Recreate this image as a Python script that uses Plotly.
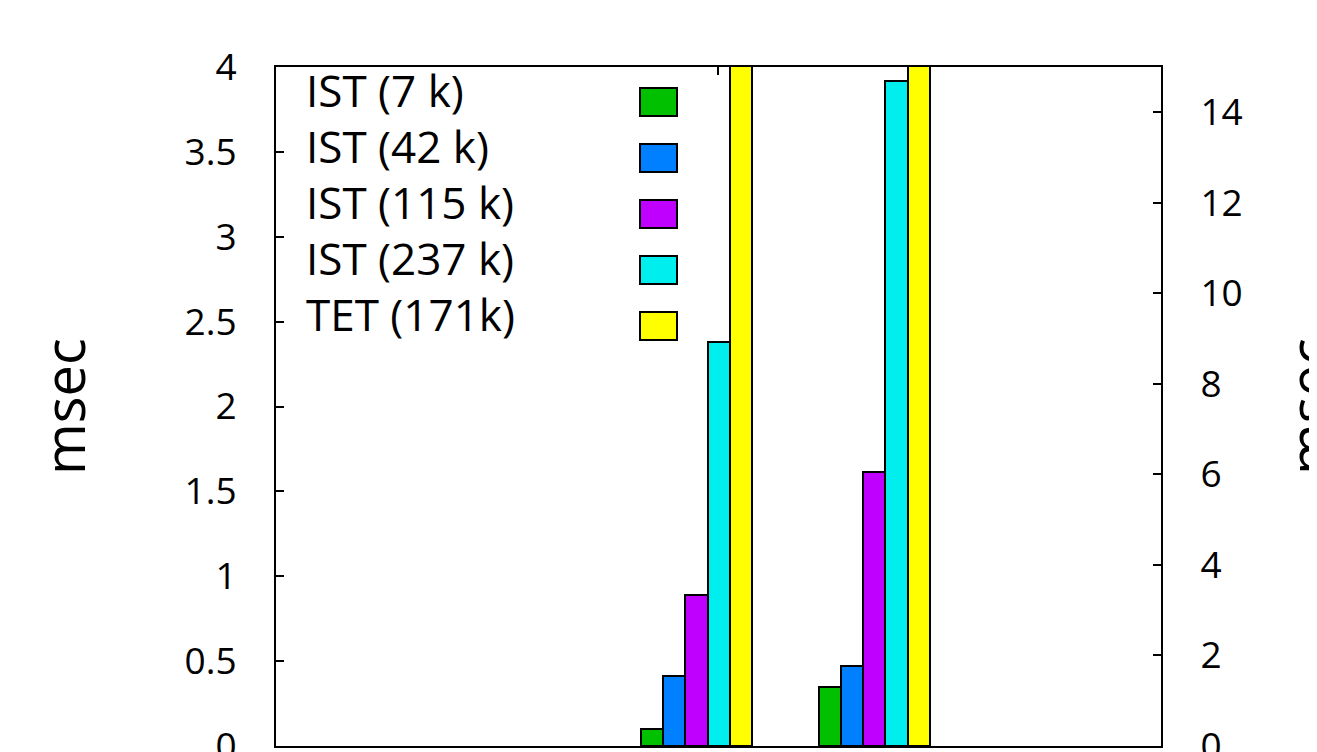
import plotly.graph_objects as go

# ---- data ----
series_names = ["IST (7 k)", "IST (42 k)", "IST (115 k)", "IST (237 k)", "TET (171k)"]
series_colors = ["#00c000", "#0080ff", "#c000ff", "#00eeee", "#ffff00"]
cluster_positions = [1, 2]          # cluster 1 -> left axis, cluster 2 -> right axis
values_left = [0.10, 0.41, 0.89, 2.38, 4.6]     # msec (left axis), last bar clipped
values_right = [1.30, 1.77, 6.05, 14.7, 17.5]   # msec (right axis), last bar clipped
left_ticks = [0, 0.5, 1, 1.5, 2, 2.5, 3, 3.5, 4]
left_ticklabels = ["0", "0.5", "1", "1.5", "2", "2.5", "3", "3.5", "4"]
right_ticks = [0, 2, 4, 6, 8, 10, 12, 14]

FONT = "Open Sans"
n = len(series_names)
gap = 3
bw = 1.0 / (n + gap)

fig = go.Figure()
for j, name in enumerate(series_names):
    off = (j - (n - 1) / 2) * bw
    fig.add_trace(go.Bar(
        x=[cluster_positions[0] + off], y=[values_left[j]], width=bw,
        marker=dict(color=series_colors[j], line=dict(color="black", width=2)),
        name=name, showlegend=False, yaxis="y"))
    fig.add_trace(go.Bar(
        x=[cluster_positions[1] + off], y=[values_right[j]], width=bw,
        marker=dict(color=series_colors[j], line=dict(color="black", width=2)),
        name=name, showlegend=False, yaxis="y2"))

# page offset (browser body margin) and plot area geometry (window pixels)
OFF = 8
WIN_W, WIN_H = 1317, 752
W, H = WIN_W - OFF, WIN_H - OFF
L, R, T, B = 276, 1161, 67, 746
pw, ph = R - L, B - T

def px_x(x):
    return (x - L) / pw

def px_y(y):
    return (B - y) / ph

# gnuplot-style key: text on the left, sample boxes on the right
box_centers = [102, 158, 214, 270, 326]
annotations = []
shapes = []
for j, name in enumerate(series_names):
    annotations.append(dict(
        x=px_x(304), y=px_y(box_centers[j] - 12), xref="paper", yref="paper",
        text=name, showarrow=False, xanchor="left", yanchor="middle",
        font=dict(family=FONT, size=44, color="black")))
    shapes.append(dict(
        type="rect", xref="paper", yref="paper",
        x0=px_x(640), x1=px_x(677),
        y0=px_y(box_centers[j] + 14), y1=px_y(box_centers[j] - 14),
        fillcolor=series_colors[j], line=dict(color="black", width=2)))

annotations.append(dict(
    x=px_x(63), y=px_y(407), xref="paper", yref="paper", text="msec",
    textangle=-90, showarrow=False, xanchor="center", yanchor="middle",
    font=dict(family=FONT, size=56, color="black")))
annotations.append(dict(
    x=px_x(1308), y=px_y(407), xref="paper", yref="paper", text="msec",
    textangle=-90, showarrow=False, xanchor="center", yanchor="middle",
    font=dict(family=FONT, size=56, color="black")))

# x range in cluster units so that the clusters land where gnuplot put them
unit_px = 22.23 * (n + gap)
x_left = cluster_positions[0] - (696.5 - L) / unit_px
x_right = x_left + pw / unit_px

fig.update_layout(
    template="none",
    width=W, height=H,
    margin=dict(l=L - OFF, r=WIN_W - R, t=T - OFF, b=WIN_H - B, pad=0),
    paper_bgcolor="white", plot_bgcolor="white",
    showlegend=False,
    bargap=0,
    font=dict(family=FONT, size=36, color="black"),
    xaxis=dict(range=[x_left, x_right], showgrid=False, zeroline=False,
               showline=True, linecolor="black", linewidth=2, mirror="ticks",
               ticks="inside", ticklen=8, tickwidth=2, tickcolor="black",
               tickvals=[x_left + (718 - L) / unit_px], showticklabels=False,
               layer="below traces"),
    yaxis=dict(range=[0, 4], tickvals=left_ticks, ticktext=left_ticklabels,
               showgrid=False, zeroline=False, showline=True, linecolor="black",
               linewidth=2, ticks="inside", ticklen=8, tickwidth=2,
               tickcolor="black", ticklabelstandoff=30, automargin=False,
               ticklabeloverflow="allow",
               tickfont=dict(family=FONT, size=37, color="black"),
               layer="below traces"),
    yaxis2=dict(range=[0, 15], tickvals=right_ticks, overlaying="y",
                side="right", showgrid=False, zeroline=False, showline=True,
                linecolor="black", linewidth=2, ticks="inside", ticklen=8,
                tickwidth=2, tickcolor="black", ticklabelstandoff=30,
                automargin=False, ticklabeloverflow="allow",
                tickfont=dict(family=FONT, size=37, color="black"),
                layer="below traces"),
    annotations=annotations,
    shapes=shapes,
)

fig.write_html("out.html")
